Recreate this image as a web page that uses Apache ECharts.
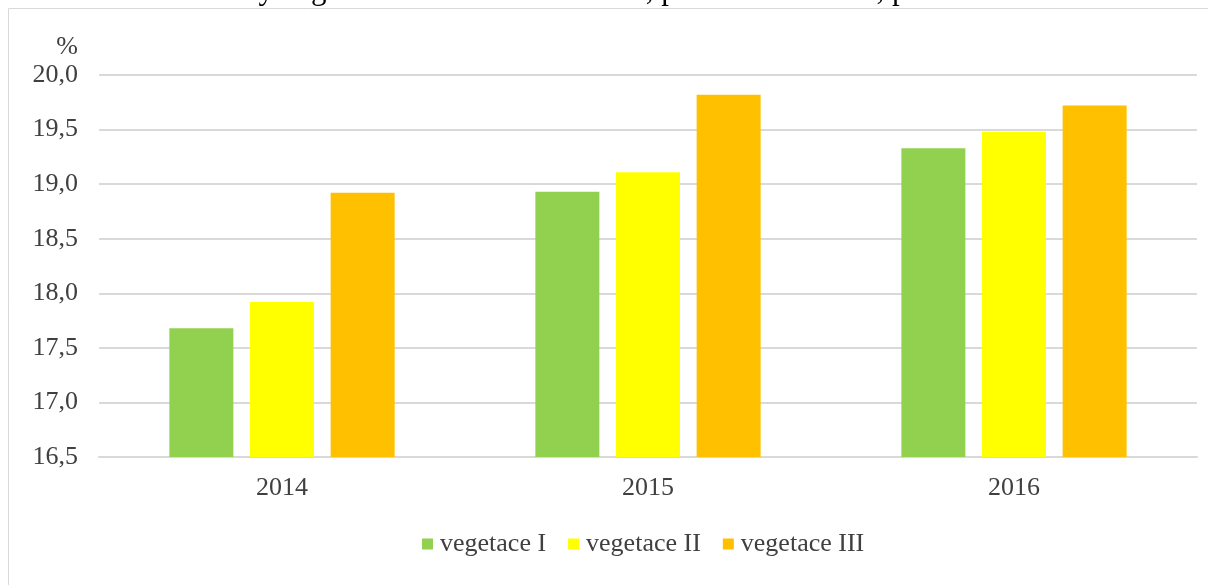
<!DOCTYPE html>
<html>
<head>
<meta charset="utf-8">
<script src="https://cdn.jsdelivr.net/npm/echarts@6/dist/echarts.min.js"></script>
<style>
  html, body { margin: 0; padding: 0; background: #fff; }
  #chart { width: 1208px; height: 585px; }
</style>
</head>
<body>
<div id="chart"></div>
<script>
var years = ['2014', '2015', '2016'];
var veg1 = [17.68, 18.93, 19.33];
var veg2 = [17.92, 19.11, 19.48];
var veg3 = [18.92, 19.82, 19.72];
var seriesNames = ['vegetace I', 'vegetace II', 'vegetace III'];
var titleText = 'Graf C11: WRV délky vegetace na ošetřené variantě, průměr 3 ročníků, porovnání ročníků';

var font = 'Liberation Serif';
var chart = echarts.init(document.getElementById('chart'));

function bar(name, data, color) {
  return {
    name: name,
    type: 'bar',
    data: data,
    barWidth: 64,
    barGap: '26%',
    itemStyle: { color: color }
  };
}

var option = {
  animation: false,
  textStyle: { fontFamily: font },
  grid: { left: 99, right: 11, top: 75, bottom: 128 },
  graphic: [
    {
      type: 'rect',
      shape: { x: 8.5, y: 8.5, width: 1300, height: 700 },
      style: { fill: 'none', stroke: '#d9d9d9', lineWidth: 1 },
      silent: true
    },
    {
      type: 'text',
      left: -4, top: -25,
      style: { text: titleText, font: '31px "Liberation Serif"', fill: '#000' },
      silent: true
    },
    {
      type: 'text',
      x: 78, y: 47,
      style: {
        text: '%', font: '26px "Liberation Serif"', fill: '#404040',
        textAlign: 'right', textVerticalAlign: 'middle'
      },
      silent: true
    }
  ],
  legend: {
    data: seriesNames,
    bottom: 23,
    left: 417,
    icon: 'rect',
    itemWidth: 11,
    itemHeight: 11,
    itemGap: 22,
    textStyle: { fontFamily: font, fontSize: 26, color: '#404040', padding: [0, 0, 0, 2] }
  },
  xAxis: {
    type: 'category',
    data: years,
    axisLine: { lineStyle: { color: '#d9d9d9', width: 2 } },
    axisTick: { show: false },
    axisLabel: { fontFamily: font, fontSize: 26, color: '#404040', margin: 18 }
  },
  yAxis: {
    type: 'value',
    min: 16.5,
    max: 20,
    interval: 0.5,
    axisLine: { show: false },
    axisTick: { show: false },
    splitLine: { lineStyle: { color: '#d9d9d9', width: 2 } },
    axisLabel: {
      fontFamily: font, fontSize: 26, color: '#404040', margin: 21,
      formatter: function (v) { return v.toFixed(1).replace('.', ','); }
    }
  },
  series: [
    bar(seriesNames[0], veg1, '#92D050'),
    bar(seriesNames[1], veg2, '#FFFF00'),
    bar(seriesNames[2], veg3, '#FFC000')
  ]
};

chart.setOption(option);
</script>
</body>
</html>
